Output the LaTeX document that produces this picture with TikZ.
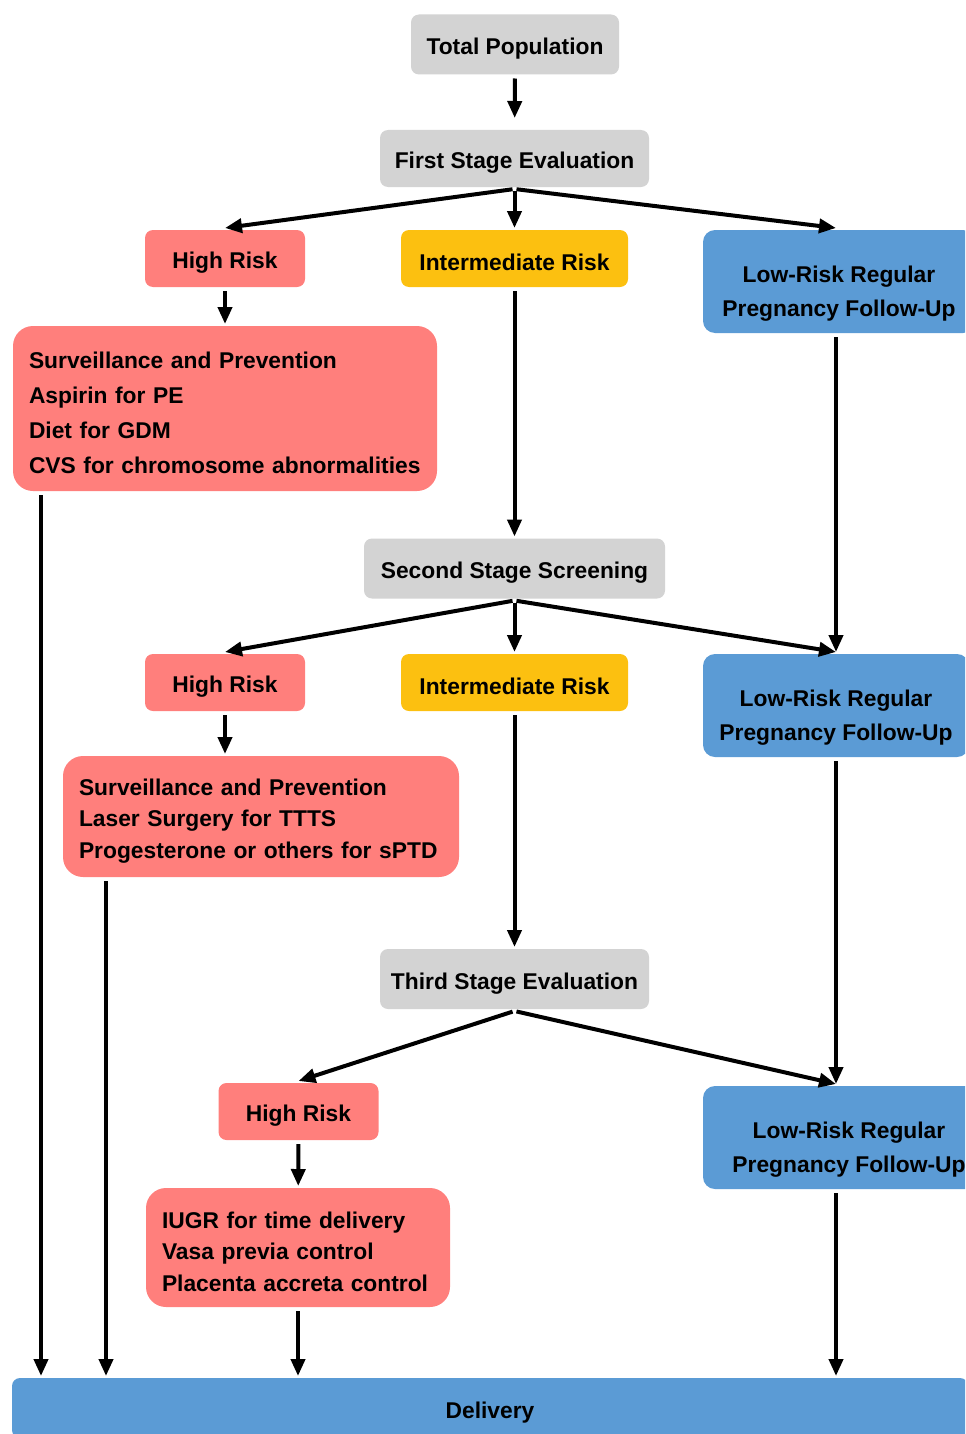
\documentclass[tikz,border=0pt]{standalone}
\usepackage{fontspec}
\setmainfont{Liberation Sans}
\usepackage{xcolor}
\usepackage{tikz}
\usetikzlibrary{arrows.meta}
\definecolor{stagegray}{HTML}{D3D3D3}
\definecolor{riskred}{HTML}{FF7F7C}
\definecolor{riskgold}{HTML}{FCC010}
\definecolor{riskblue}{HTML}{5B9BD5}
\tikzset{
    boxnode/.style = {align=center, inner sep=0pt, text height=12.5pt, font=\fontsize{11.4pt}{17pt}\selectfont\bfseries, rounded corners=4pt},
    stage_node/.style = {boxnode, fill=stagegray, minimum height=30pt},
    high_node/.style = {boxnode, fill=riskred, minimum width=80pt, minimum height=28.5pt},
    mid_node/.style = {boxnode, fill=riskgold, minimum width=113.5pt, minimum height=28.5pt},
    low_node/.style = {boxnode, fill=riskblue, anchor=west, minimum height=51.5pt, text height=37.5pt, rounded corners=6pt},
    care_node/.style = {boxnode, fill=riskred, align=left, inner xsep=8pt, rounded corners=10pt, font=\fontsize{11.4pt}{#1}\selectfont\bfseries},
    care_node/.default = 17.5pt
}

\begin{document}
\begin{tikzpicture}
    [x=0.5pt, y=-0.5pt, line width=2pt, >={Triangle[length=8.5pt,width=7pt]},
    flow/.style={->, shorten <=1pt}]
    \useasboundingbox (0,0) rectangle (965,1434);
    \clip (0,0) rectangle (965,1434);

    % first stage
    \node [stage_node, minimum width=104pt] (tp) at (515,44.5) {Total Population};
    \node [stage_node, minimum width=134.5pt, minimum height=28.5pt] (fs) at (514.5,158.5) {First Stage Evaluation};
    \node [high_node] (h1) at (225,258.5) {High Risk};
    \node [mid_node] (i1) at (514.5,258.5) {Intermediate Risk};
    \node [low_node, minimum width=136pt] (l1) at (701,281.5) {Low-Risk Regular\\Pregnancy Follow-Up};
    \node [care_node, text width=196pt, minimum height=82.5pt] (s1) at (225,408.5)
        {Surveillance and Prevention\\Aspirin for PE\\Diet for GDM\\CVS for chromosome abnormalities};

    % second stage
    \node [stage_node, minimum width=150.5pt] (ss) at (514.5,568.5) {Second Stage Screening};
    \node [high_node] (h2) at (225,682.5) {High Risk};
    \node [mid_node] (i2) at (514.5,682.5) {Intermediate Risk};
    \node [low_node, minimum width=133pt] (l2) at (701,705.5) {Low-Risk Regular\\Pregnancy Follow-Up};
    \node [care_node=15.75pt, text width=182pt, minimum height=60.5pt] (s2) at (261,816.5)
        {Surveillance and Prevention\\Laser Surgery for TTTS\\Progesterone or others for sPTD};

    % third stage
    \node [stage_node, minimum width=134.5pt] (ts) at (514.5,979) {Third Stage Evaluation};
    \node [high_node] (h3) at (298.5,1111.5) {High Risk};
    \node [low_node, minimum width=146pt] (l3) at (701,1137.5) {Low-Risk Regular\\Pregnancy Follow-Up};
    \node [care_node=15.75pt, text width=136pt, minimum height=59.5pt] (iu) at (298,1247.5)
        {IUGR for time delivery\\Vasa previa control\\Placenta accreta control};

    \node [boxnode, fill=riskblue, minimum width=478pt, minimum height=30pt] (dl) at (490,1408) {Delivery};
    \coordinate (lowx) at (836,0);

    % connectors
    \draw [flow, shorten >=5pt] (tp) -- (fs);
    \draw [flow] (fs.south) -- (h1.north);
    \draw [flow] (fs.south) -- (i1.north);
    \draw [flow] (fs.south) -- (l1.north -| lowx);
    \draw [flow] (h1) -- (s1);
    \draw [flow] (i1) -- (ss);
    \draw [flow] (l1.south -| lowx) -- (l2.north -| lowx);
    \draw [flow] (ss.south) -- (h2.north);
    \draw [flow] (ss.south) -- (i2.north);
    \draw [flow] (ss.south) -- (l2.north -| lowx);
    \draw [flow] (h2.south) -- (h2.south |- s2.north);
    \draw [flow] (i2) -- (ts);
    \draw [flow] (l2.south -| lowx) -- (l3.north -| lowx);
    \draw [flow] (ts.south) -- (h3.north);
    \draw [flow] (ts.south) -- (l3.north -| lowx);
    \draw [flow] (h3) -- (iu);
    \draw [flow] ([xshift=15pt]s1.south west) -- ([xshift=15pt]s1.south west |- dl.north);
    \draw [flow] ([xshift=22.5pt]s2.south west) -- ([xshift=22.5pt]s2.south west |- dl.north);
    \draw [flow] (iu.south) -- (iu.south |- dl.north);
    \draw [flow] (l3.south -| lowx) -- (lowx |- dl.north);
\end{tikzpicture}
\end{document}
